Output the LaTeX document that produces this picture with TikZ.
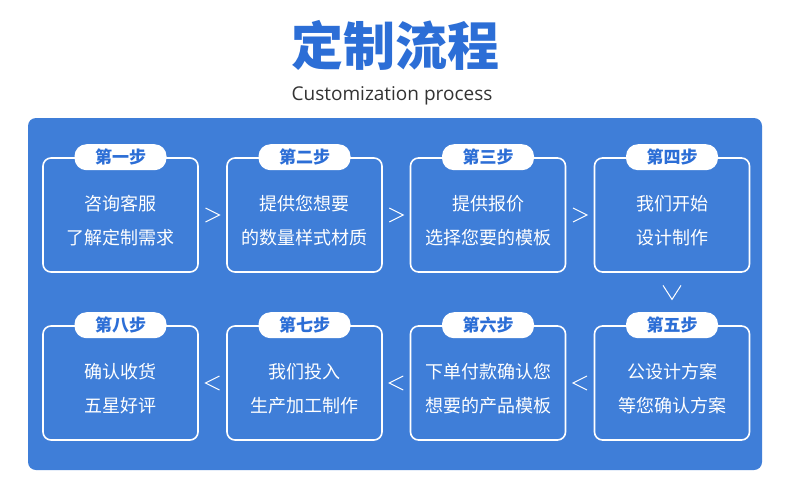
\documentclass[tikz,border=0pt]{standalone}
\usepackage{fontspec}
\setmainfont{Noto Sans CJK SC}
\newfontfamily\latinfont{Open Sans}
\usetikzlibrary{calc}
\definecolor{panelblue}{HTML}{3F7ED8}
\definecolor{titleblue}{HTML}{2C6ED6}
\definecolor{subgray}{HTML}{333333}
\tikzset{
  card/.style={draw=white, line width=1.6pt, rounded corners=8pt,
    minimum width=155pt, minimum height=114pt},
  pill/.style={fill=white, rounded corners=12pt, minimum width=92pt,
    minimum height=26pt, text=titleblue, font=\fontsize{17}{17}\selectfont\bfseries, inner sep=0pt},
  body/.style={text=white, align=center, font=\fontsize{18}{34}\selectfont},
  chev/.style={draw=white, line width=1pt}
}
\begin{document}
\begin{tikzpicture}[x=1pt,y=-1pt]
  \useasboundingbox (0,0) rectangle (790,496);
  \fill[white] (0,0) rectangle (790,496);
  % Title
  \node (title) at (395,45) {\fontsize{52}{52}\selectfont\bfseries\color{titleblue}定制流程};
  \node (sub) at (392,96) {\latinfont\fontsize{19}{19}\selectfont\color{subgray}Customization process};
  % Panel
  \fill[panelblue, rounded corners=8pt] (28,118) rectangle (762,470);
  % Cards
  \foreach \name/\x/\y/\lbl/\txt in {
      c1/120.5/215/第一步/{咨询客服\\了解定制需求},
      c2/304.5/215/第二步/{提供您想要\\的数量样式材质},
      c3/488/215/第三步/{提供报价\\选择您要的模板},
      c4/672/215/第四步/{我们开始\\设计制作},
      c5/672/383/第五步/{公设计方案\\等您确认方案},
      c6/488/383/第六步/{下单付款确认您\\想要的产品模板},
      c7/304.5/383/第七步/{我们投入\\生产加工制作},
      c8/120.5/383/第八步/{确认收货\\五星好评}}{
    \node[card] (\name) at (\x,\y) {};
    \node[body] at ($(\name)+(0,6)$) {\txt};
    \node[pill] (\name-lbl) at (\name.north) {\lbl};
  }
  % Chevrons
  \foreach \a/\b in {c1/c2,c2/c3,c3/c4}{
    \coordinate (m) at ($(\a.east)!0.5!(\b.west)$);
    \draw[chev] ($(m)+(-7,-7)$) -- ($(m)+(7,0)$) -- ($(m)+(-7,7)$);
  }
  \foreach \a/\b in {c5/c6,c6/c7,c7/c8}{
    \coordinate (m) at ($(\a.west)!0.5!(\b.east)$);
    \draw[chev] ($(m)+(7,-7)$) -- ($(m)+(-7,0)$) -- ($(m)+(7,7)$);
  }
  \coordinate (m) at ($(c4.south)!0.5!(c5-lbl.north)$);
  \draw[chev] ($(m)+(-9,-7)$) -- ($(m)+(0,7)$) -- ($(m)+(9,-7)$);
\end{tikzpicture}
\end{document}
